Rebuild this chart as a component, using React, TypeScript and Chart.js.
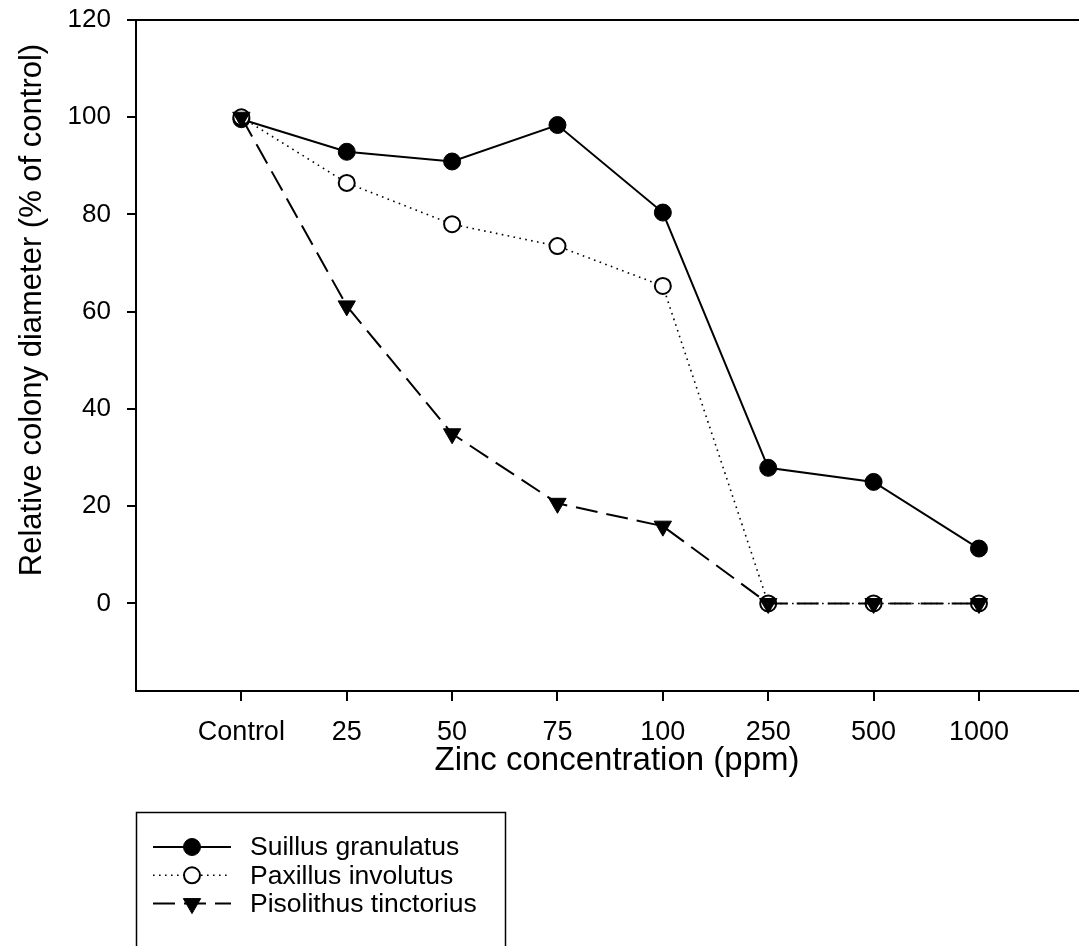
import React, { useEffect, useRef } from 'react';
import { Chart, registerables } from 'chart.js';

Chart.register(...registerables);

const categories = ['Control', '25', '50', '75', '100', '250', '500', '1000'];
const seriesNames = ['Suillus granulatus', 'Paxillus involutus', 'Pisolithus tinctorius'];
const suillus = [99.6, 92.9, 90.9, 98.4, 80.4, 27.9, 25.0, 11.3];
const paxillus = [100, 86.5, 78.0, 73.5, 65.3, 0, 0, 0];
const pisolithus = [100, 61.2, 34.9, 20.6, 15.9, 0, 0, 0];
const yTicks = [0, 20, 40, 60, 80, 100, 120];
const xTitle = 'Zinc concentration (ppm)';
const yTitle = 'Relative colony diameter (% of control)';

const FONT = "'Liberation Sans', Arial, Helvetica, sans-serif";

const toXY = (vals: number[]) => vals.map((v, i) => ({ x: i, y: v }));

function drawMarker(ctx: CanvasRenderingContext2D, ds: any, x: number, y: number) {
  const r = ds.pointRadius;
  ctx.save();
  ctx.setLineDash([]);
  ctx.lineWidth = ds.pointBorderWidth;
  ctx.fillStyle = ds.pointBackgroundColor;
  ctx.strokeStyle = ds.pointBorderColor;
  ctx.beginPath();
  if (ds.pointStyle === 'triangle') {
    let rad = Math.PI;
    ctx.moveTo(x + Math.sin(rad) * r, y - Math.cos(rad) * r);
    rad += (2 * Math.PI) / 3;
    ctx.lineTo(x + Math.sin(rad) * r, y - Math.cos(rad) * r);
    rad += (2 * Math.PI) / 3;
    ctx.lineTo(x + Math.sin(rad) * r, y - Math.cos(rad) * r);
    ctx.closePath();
  } else {
    ctx.arc(x, y, r, 0, Math.PI * 2);
  }
  ctx.fill();
  ctx.stroke();
  ctx.restore();
}

const axisTitles = {
  id: 'axisTitles',
  afterDraw(chart: any) {
    const ctx: CanvasRenderingContext2D = chart.ctx;
    ctx.save();
    ctx.fillStyle = '#000';
    ctx.textAlign = 'center';
    ctx.textBaseline = 'middle';
    ctx.font = `33px ${FONT}`;
    ctx.fillText(xTitle, 617, 761);
    ctx.translate(32, 310);
    ctx.rotate(-Math.PI / 2);
    ctx.font = `31px ${FONT}`;
    ctx.fillText(yTitle, 0, 0);
    ctx.restore();
  },
};

const boxLegend = {
  id: 'boxLegend',
  afterDraw(chart: any) {
    const ctx: CanvasRenderingContext2D = chart.ctx;
    ctx.save();
    ctx.strokeStyle = '#000';
    ctx.lineWidth = 1.5;
    ctx.strokeRect(136.5, 812.5, 369, 300);
    ctx.font = `26.5px ${FONT}`;
    ctx.fillStyle = '#000';
    ctx.textAlign = 'left';
    ctx.textBaseline = 'middle';
    chart.data.datasets.forEach((ds: any, i: number) => {
      const y = 847 + i * 28.3;
      ctx.save();
      ctx.strokeStyle = ds.borderColor;
      ctx.lineWidth = ds.borderWidth;
      ctx.setLineDash(ds.borderDash || []);
      ctx.beginPath();
      ctx.moveTo(153, y);
      ctx.lineTo(231, y);
      ctx.stroke();
      ctx.restore();
      drawMarker(ctx, ds, 192, y);
      ctx.fillText(ds.label, 250, y + 1);
    });
    ctx.restore();
  },
};

export default function App() {
  const ref = useRef<HTMLCanvasElement | null>(null);

  useEffect(() => {
    if (!ref.current) return;
    Chart.defaults.font.family = FONT;
    Chart.defaults.color = '#000';
    const chart = new Chart(ref.current, {
      type: 'line',
      data: {
        datasets: [
          {
            label: seriesNames[0],
            data: toXY(suillus),
            borderColor: '#000',
            backgroundColor: '#000',
            borderWidth: 2,
            borderDash: [],
            pointStyle: 'circle',
            pointRadius: 8.5,
            pointBackgroundColor: '#000',
            pointBorderColor: '#000',
            pointBorderWidth: 1,
            tension: 0,
            order: 2,
          },
          {
            label: seriesNames[1],
            data: toXY(paxillus),
            borderColor: '#000',
            backgroundColor: '#fff',
            borderWidth: 1.6,
            borderDash: [1.6, 4.4],
            pointStyle: 'circle',
            pointRadius: 8,
            pointBackgroundColor: '#fff',
            pointBorderColor: '#000',
            pointBorderWidth: 2,
            tension: 0,
            order: 1,
          },
          {
            label: seriesNames[2],
            data: toXY(pisolithus),
            borderColor: '#000',
            backgroundColor: '#000',
            borderWidth: 2,
            borderDash: [22, 9],
            pointStyle: 'triangle',
            pointRotation: 180,
            pointRadius: 10,
            pointBackgroundColor: '#000',
            pointBorderColor: '#000',
            pointBorderWidth: 1,
            tension: 0,
            order: 0,
          },
        ] as any,
      },
      options: {
        animation: false,
        responsive: false,
        maintainAspectRatio: false,
        layout: { padding: { top: 20, bottom: 155, left: 0, right: 0 } },
        plugins: {
          legend: { display: false },
          tooltip: { enabled: false },
        },
        elements: { line: { fill: false } },
        scales: {
          x: {
            type: 'linear',
            position: 'bottom',
            min: -1,
            max: 7.94,
            afterBuildTicks: (s: any) => {
              s.ticks = categories.map((_, i) => ({ value: i }));
            },
            afterFit: (s: any) => {
              s.height = 100;
              s.paddingLeft = 0;
              s.paddingRight = 0;
            },
            ticks: {
              callback: (v: any) => categories[v] ?? '',
              font: { size: 27 },
              padding: 15,
              maxRotation: 0,
              autoSkip: false,
              color: '#000',
            },
            grid: {
              display: true,
              drawOnChartArea: false,
              drawTicks: true,
              tickLength: 10,
              color: '#000',
              lineWidth: 2,
            },
            border: { display: true, color: '#000', width: 2 },
          },
          x2: {
            type: 'linear',
            position: 'top',
            min: -1,
            max: 7.94,
            afterFit: (s: any) => {
              s.height = 0;
              s.paddingLeft = 0;
              s.paddingRight = 0;
            },
            ticks: { display: false },
            grid: { display: false, drawOnChartArea: false, drawTicks: false },
            border: { display: true, color: '#000', width: 2 },
          },
          y: {
            type: 'linear',
            position: 'left',
            min: -18,
            max: 120,
            afterBuildTicks: (s: any) => {
              s.ticks = yTicks.map((v) => ({ value: v }));
            },
            afterFit: (s: any) => {
              s.width = 136;
              s.paddingTop = 0;
              s.paddingBottom = 0;
            },
            ticks: {
              font: { size: 26 },
              padding: 16,
              color: '#000',
            },
            grid: {
              display: true,
              drawOnChartArea: false,
              drawTicks: true,
              tickLength: 9,
              color: '#000',
              lineWidth: 2,
            },
            border: { display: true, color: '#000', width: 2 },
          },
        },
      } as any,
      plugins: [axisTitles, boxLegend],
    });
    return () => chart.destroy();
  }, []);

  return (
    <div style={{ position: 'absolute', left: 0, top: 0, width: 1089, height: 946, background: '#fff' }}>
      <canvas ref={ref} width={1089} height={946} style={{ display: 'block', width: 1089, height: 946 }} />
    </div>
  );
}
